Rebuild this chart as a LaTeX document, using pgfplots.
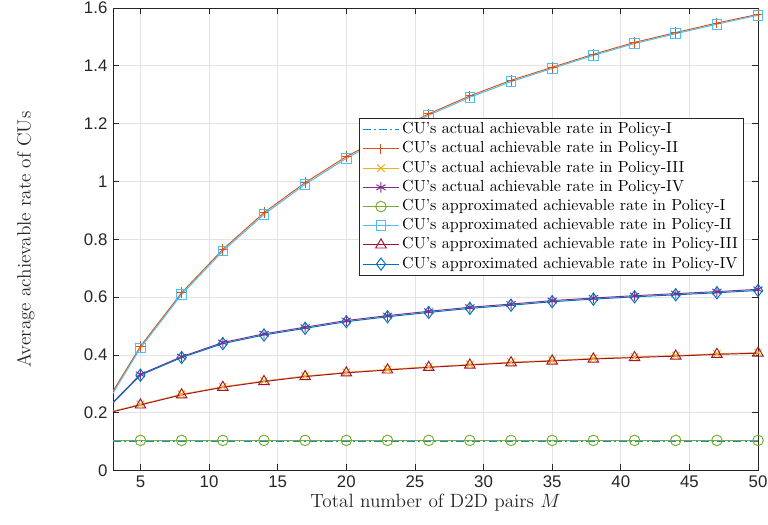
\documentclass[border=0pt]{standalone}
\usepackage{fontspec}
\usepackage{pgfplots}
\pgfplotsset{compat=1.18}
\newfontfamily\tickfont{Liberation Sans}
\definecolor{matblue}{rgb}{0,0.447,0.741}
\definecolor{matorange}{rgb}{0.85,0.325,0.098}
\definecolor{matyellow}{rgb}{0.929,0.694,0.125}
\definecolor{matpurple}{rgb}{0.494,0.184,0.556}
\definecolor{matgreen}{rgb}{0.466,0.674,0.188}
\definecolor{matcyan}{rgb}{0.301,0.745,0.933}
\definecolor{matred}{rgb}{0.635,0.078,0.184}
\definecolor{axgray}{gray}{0.15}
% first segment (M=2 lies left of the visible range; no markers drawn there)
\pgfplotstableread{
M   IA     IIA    IIIA   IVA    IP     IIP    IIIP   IVP
2   0.0995 0.197  0.194  0.188  0.1045 0.190  0.192  0.186
5   0.0995 0.430  0.229  0.333  0.1045 0.424  0.227  0.330
}\starttable
\pgfplotstableread{
M   IA     IIA    IIIA   IVA    IP     IIP    IIIP   IVP
5   0.0995 0.430  0.229  0.333  0.1045 0.424  0.227  0.330
8   0.0995 0.615  0.264  0.394  0.1045 0.609  0.262  0.391
11  0.0995 0.765  0.290  0.443  0.1045 0.759  0.288  0.439
14  0.0995 0.892  0.310  0.473  0.1045 0.886  0.308  0.469
17  0.0995 0.996  0.327  0.496  0.1045 0.990  0.325  0.492
20  0.0995 1.086  0.340  0.519  0.1045 1.080  0.338  0.515
23  0.0995 1.162  0.350  0.536  0.1045 1.157  0.348  0.532
26  0.0995 1.234  0.359  0.551  0.1045 1.229  0.357  0.547
29  0.0995 1.296  0.367  0.565  0.1045 1.291  0.365  0.561
32  0.0995 1.350  0.375  0.576  0.1045 1.345  0.373  0.572
35  0.0995 1.395  0.381  0.588  0.1045 1.391  0.379  0.584
38  0.0995 1.440  0.388  0.597  0.1045 1.436  0.386  0.593
41  0.0995 1.481  0.393  0.605  0.1045 1.477  0.391  0.601
44  0.0995 1.515  0.398  0.612  0.1045 1.511  0.396  0.608
47  0.0995 1.548  0.404  0.619  0.1045 1.544  0.402  0.615
50  0.0995 1.578  0.408  0.627  0.1045 1.575  0.406  0.623
}\datatable
\begin{document}
\begin{tikzpicture}
\begin{axis}[
  scale only axis,
  width=403pt, height=289pt,
  xmin=3, xmax=50, ymin=0, ymax=1.6,
  xtick={5,10,15,20,25,30,35,40,45,50},
  ytick={0,0.2,0.4,0.6,0.8,1,1.2,1.4,1.6},
  yticklabels={0,0.2,0.4,0.6,0.8,1,1.2,1.4,1.6},
  tick align=inside,
  major tick length=4pt,
  grid=major,
  major grid style={gray!22, line width=0.5pt},
  axis line style={axgray, line width=0.5pt},
  every tick/.style={axgray, line width=0.5pt},
  ticklabel style={font=\fontsize{10.5}{12}\tickfont, text=axgray},
  /pgf/number format/assume math mode=true,
  xlabel={Total number of D2D pairs $M$},
  ylabel={Average achievable rate of CUs},
  label style={font=\fontsize{12}{14}\selectfont, text=axgray},
  xlabel style={yshift=3pt},
  ylabel style={yshift=24pt},
  every axis plot/.append style={line width=0.6pt, mark size=3.3pt},
  legend cell align=left,
  legend style={at={(0.978,0.762)}, anchor=north east, draw=axgray, line width=0.5pt,
    font=\fontsize{10}{12}\selectfont, inner xsep=2pt, inner ysep=1pt,
    nodes={inner sep=1.5pt, text height=7pt, text depth=2pt}},
  legend image code/.code={
    \draw (0cm,0cm) -- (0.8cm,0cm);
    \draw plot[mark repeat=1] coordinates {(0.4cm,0cm)};
  },
]
% first pieces of the series, clipped at M=3 (M=2 lies outside the visible range)
\addplot[forget plot, draw=matorange, no marks] table[x=M,y=IIA] {\starttable};
\addplot[forget plot, draw=matyellow, no marks] table[x=M,y=IIIA] {\starttable};
\addplot[forget plot, draw=matpurple, no marks] table[x=M,y=IVA] {\starttable};
\addplot[forget plot, draw=matgreen, no marks] table[x=M,y=IP] {\starttable};
\addplot[forget plot, draw=matcyan, no marks] table[x=M,y=IIP] {\starttable};
\addplot[forget plot, draw=matred, no marks] table[x=M,y=IIIP] {\starttable};
\addplot[forget plot, draw=matblue, no marks] table[x=M,y=IVP] {\starttable};
% main series
\addplot[draw={rgb,255:red,25;green,135;blue,215}, line width=0.8pt, dash pattern=on 5pt off 2pt on 1.2pt off 2pt, mark=none] table[x=M,y=IA] {
M IA
3 0.0995
50 0.0995
};
\addlegendentry{CU's actual achievable rate in Policy-I}
\addplot[color=matorange, mark=+] table[x=M,y=IIA] {\datatable};
\addlegendentry{CU's actual achievable rate in Policy-II}
\addplot[color=matyellow, mark=x] table[x=M,y=IIIA] {\datatable};
\addlegendentry{CU's actual achievable rate in Policy-III}
\addplot[color=matpurple, mark=asterisk] table[x=M,y=IVA] {\datatable};
\addlegendentry{CU's actual achievable rate in Policy-IV}
\addplot[color=matgreen, mark=o] table[x=M,y=IP] {\datatable};
\addlegendentry{CU's approximated achievable rate in Policy-I}
\addplot[color=matcyan, mark=square, mark size=3pt] table[x=M,y=IIP] {\datatable};
\addlegendentry{CU's approximated achievable rate in Policy-II}
\addplot[color=matred, mark=triangle, mark size=3.8pt] table[x=M,y=IIIP] {\datatable};
\addlegendentry{CU's approximated achievable rate in Policy-III}
\addplot[color=matblue, mark=diamond, mark size=3.8pt] table[x=M,y=IVP] {\datatable};
\addlegendentry{CU's approximated achievable rate in Policy-IV}
\coordinate (sw) at (rel axis cs:0,0);
\coordinate (ne) at (rel axis cs:1,1);
\end{axis}
\pgfresetboundingbox
\path[use as bounding box] ([xshift=-70.6pt,yshift=-33.7pt]sw) rectangle ([xshift=6.2pt,yshift=5pt]ne);
\end{tikzpicture}
\end{document}
